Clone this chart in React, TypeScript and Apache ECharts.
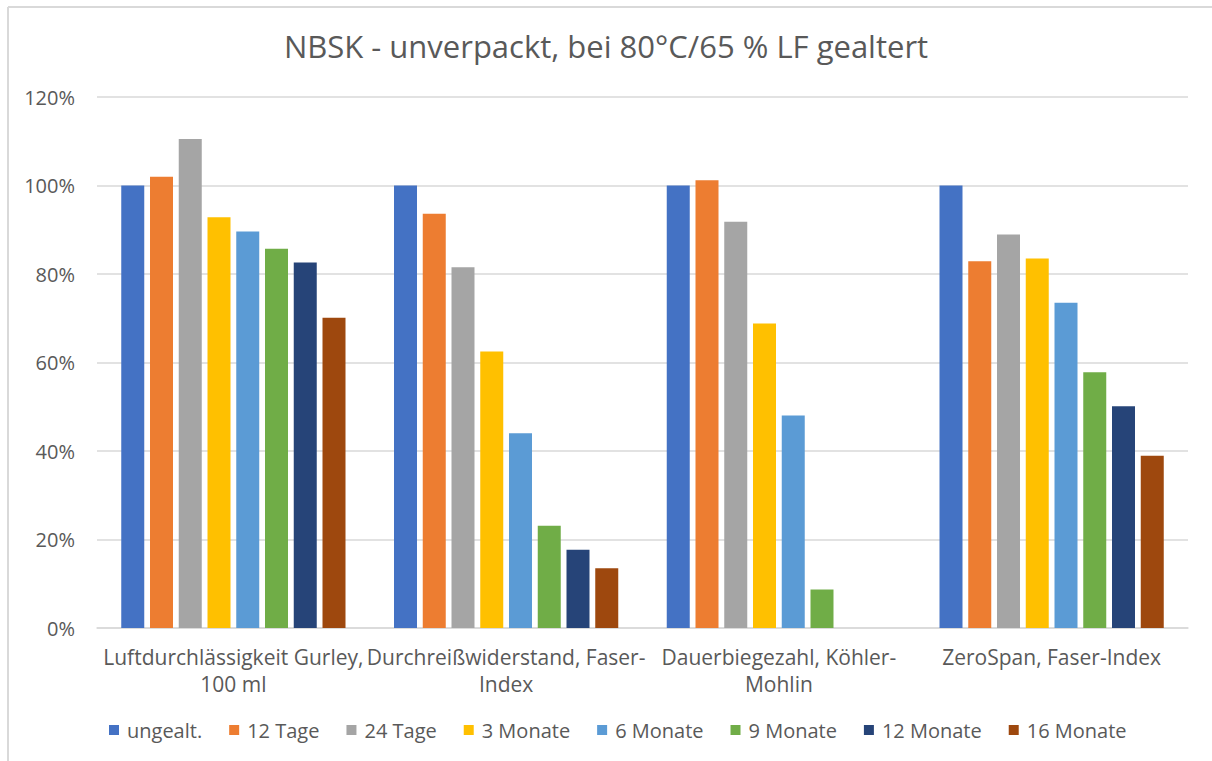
import React, { useEffect, useRef } from "react";
import * as echarts from "echarts";

const title = "NBSK - unverpackt, bei 80°C/65 % LF gealtert";
const categories = [
  "Luftdurchlässigkeit Gurley, 100 ml",
  "Durchreißwiderstand, Faser-Index",
  "Dauerbiegezahl, Köhler-Mohlin",
  "ZeroSpan, Faser-Index",
];
const categoryLabels = [
  "Luftdurchlässigkeit Gurley,\n100 ml",
  "Durchreißwiderstand, Faser-\nIndex",
  "Dauerbiegezahl, Köhler-\nMohlin",
  "ZeroSpan, Faser-Index",
];
const seriesNames = [
  "ungealt.",
  "12 Tage",
  "24 Tage",
  "3 Monate",
  "6 Monate",
  "9 Monate",
  "12 Monate",
  "16 Monate",
];
const ungealt = [100, 100, 100, 100];
const tage12 = [102.0, 93.6, 101.2, 82.9];
const tage24 = [110.5, 81.5, 91.8, 88.9];
const monate3 = [92.8, 62.5, 68.8, 83.5];
const monate6 = [89.6, 44.0, 48.0, 73.5];
const monate9 = [85.7, 23.1, 8.7, 57.8];
const monate12 = [82.6, 17.7, null, 50.1];
const monate16 = [70.1, 13.5, null, 38.9];
const seriesValues = [ungealt, tage12, tage24, monate3, monate6, monate9, monate12, monate16];
const colors = ["#4472C4", "#ED7D31", "#A5A5A5", "#FFC000", "#5B9BD5", "#70AD47", "#264478", "#9E480E"];
const yTicks = { min: 0, max: 120, interval: 20 };

const FONT = "'Open Sans', sans-serif";
const TEXT = "#595959";

export default function App() {
  const ref = useRef<HTMLDivElement>(null);
  useEffect(() => {
    if (!ref.current) return;
    const chart = echarts.init(ref.current, undefined, { renderer: "svg" });
    chart.setOption({
      animation: false,
      backgroundColor: "#ffffff",
      color: colors,
      title: {
        text: title,
        left: "center",
        top: 25,
        textStyle: { fontFamily: FONT, fontSize: 31, fontWeight: "normal", color: TEXT },
      },
      grid: { left: 97, right: 24, top: 97, bottom: 133 },
      legend: {
        bottom: 16,
        left: 104,
        icon: "rect",
        itemWidth: 10,
        itemHeight: 10,
        itemGap: 27,
        textStyle: { fontFamily: FONT, fontSize: 20, color: TEXT, padding: [0, 0, 0, 3] },
        data: seriesNames,
      },
      xAxis: {
        type: "category",
        data: categories,
        axisLine: { lineStyle: { color: "#d9d9d9", width: 1.5 } },
        axisTick: { show: false },
        axisLabel: {
          formatter: (_v: string, i: number) => categoryLabels[i],
          fontFamily: FONT,
          fontSize: 21,
          color: TEXT,
          lineHeight: 27,
          margin: 15,
          interval: 0,
        },
      },
      yAxis: {
        type: "value",
        min: yTicks.min,
        max: yTicks.max,
        interval: yTicks.interval,
        axisLabel: {
          formatter: "{value}%",
          fontFamily: FONT,
          fontSize: 20,
          color: TEXT,
          margin: 22,
        },
        axisLine: { show: false },
        axisTick: { show: false },
        splitLine: { lineStyle: { color: "#d9d9d9", width: 1.5 } },
      },
      series: seriesNames.map((name, i) => ({
        name,
        type: "bar",
        data: seriesValues[i],
        barWidth: 23,
        barGap: "25%",
      })),
      graphic: [
        { type: "line", shape: { x1: 8, y1: 7, x2: 1212, y2: 7 }, style: { stroke: "#d9d9d9", lineWidth: 2 } },
        { type: "line", shape: { x1: 8, y1: 7, x2: 8, y2: 761 }, style: { stroke: "#d9d9d9", lineWidth: 2 } },
      ],
    });
    return () => chart.dispose();
  }, []);
  return (
    <div
      ref={ref}
      style={{ position: "absolute", left: 0, top: 0, width: 1212, height: 761 }}
    />
  );
}
